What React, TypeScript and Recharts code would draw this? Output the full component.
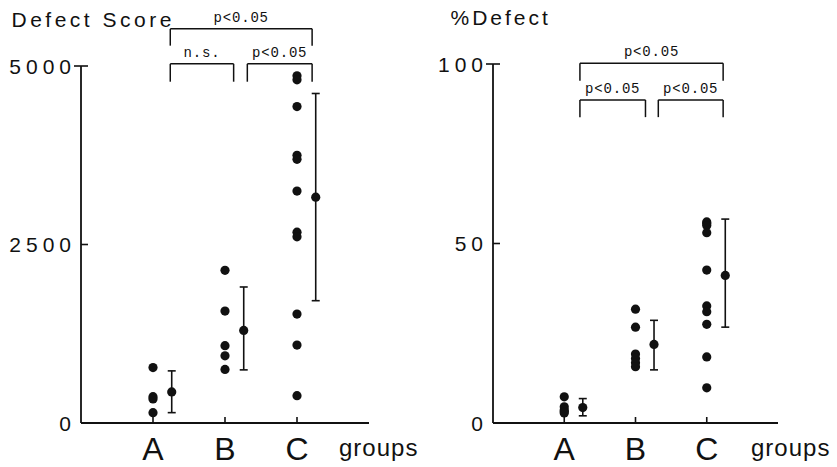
import { ScatterChart, Scatter, XAxis, YAxis, ErrorBar, ReferenceLine } from "recharts";

const GROUPS = ["A", "B", "C"];
const GROUP_X = [1, 2, 3];

// Defect Score, single animals per group
const scoreA = [776, 369, 337, 145];
const scoreB = [2139, 1568, 1083, 941, 751];
const scoreC = [4862, 4806, 4432, 3749, 3693, 3248, 2672, 2607, 1526, 1091, 383];
const scoreMean = [435, 1296, 3163];
const scoreSdLow = [290, 552, 1450];
const scoreSdHigh = [295, 609, 1452];
const scoreTicks = [0, 2500, 5000];

// %Defect, single animals per group
const pctA = [7.3, 4.5, 3.6, 3.2, 2.8];
const pctB = [31.7, 26.7, 19.2, 18.0, 16.8, 15.7];
const pctC = [56, 55.6, 55, 53, 42.6, 32.6, 31, 27.5, 18.4, 9.8];
const pctMean = [4.3, 21.9, 41.1];
const pctSdLow = [2.3, 7.1, 14.4];
const pctSdHigh = [2.5, 6.7, 15.7];
const pctTicks = [0, 50, 100];

// significance brackets (group span, level, label)
const scoreBrackets = [
  { from: 1.24, to: 3.21, y: 5520, drop: 235, label: "p<0.05" },
  { from: 1.24, to: 2.12, y: 5030, drop: 250, label: "n.s." },
  { from: 2.31, to: 3.21, y: 5030, drop: 250, label: "p<0.05" },
];
const pctBrackets = [
  { from: 1.22, to: 3.23, y: 100.2, drop: 4.9, label: "p<0.05" },
  { from: 1.22, to: 2.14, y: 90.0, drop: 4.8, label: "p<0.05" },
  { from: 2.32, to: 3.23, y: 90.0, drop: 4.8, label: "p<0.05" },
];

const MEAN_OFFSET = 0.26;
const INK = "#111";
const SANS = "'Liberation Sans', Arial, Helvetica, sans-serif";
const MONO = "'Liberation Mono', 'DejaVu Sans Mono', monospace";

const Dot = (p: any) => <circle cx={p.cx} cy={p.cy} r={4.6} fill={INK} />;

function YTick(props: any) {
  const { x, y, payload, top } = props;
  const v = payload.value;
  return (
    <g>
      {v !== 0 && (
        <line x1={v === top ? x - 7 : x} x2={x + 7} y1={y} y2={y} stroke={INK} strokeWidth={1.6} />
      )}
      <text x={x - 5} y={y + 7.5} textAnchor="end" fontSize={21} fontFamily={SANS} letterSpacing={5} fill={INK}>
        {v}
      </text>
    </g>
  );
}

function XTick(props: any) {
  const { x, y, payload } = props;
  return (
    <g>
      <line x1={x} x2={x} y1={y - 6} y2={y} stroke={INK} strokeWidth={1.6} />
      <text x={x} y={y + 37} textAnchor="middle" fontSize={32} fontFamily={SANS} fill={INK}>
        {GROUPS[payload.value - 1]}
      </text>
    </g>
  );
}

type Bracket = { from: number; to: number; y: number; drop: number; label: string };

function Panel(props: {
  groups: number[][];
  mean: number[];
  low: number[];
  high: number[];
  ticks: number[];
  brackets: Bracket[];
  width: number;
  yWidth: number;
  top: number;
  right: number;
}) {
  const { groups, mean, low, high, ticks, brackets, width, yWidth, top, right } = props;
  const yMax = ticks[ticks.length - 1];
  const points = groups.flatMap((vals, i) => vals.map((v) => ({ x: GROUP_X[i], y: v })));
  const means = mean.map((m, i) => ({ x: GROUP_X[i] + MEAN_OFFSET, y: m, err: [low[i], high[i]] }));

  return (
    <ScatterChart width={width} height={467} margin={{ top, right, bottom: 0, left: 0 }}>
      <XAxis
        type="number"
        dataKey="x"
        domain={[0, 4]}
        ticks={GROUP_X}
        height={44}
        tickSize={0}
        tickMargin={0}
        tickLine={false}
        axisLine={{ stroke: INK, strokeWidth: 1.8 }}
        tick={(p: any) => <XTick {...p} />}
      />
      <YAxis
        type="number"
        dataKey="y"
        domain={[0, yMax]}
        ticks={ticks}
        width={yWidth}
        tickSize={0}
        tickMargin={0}
        tickLine={false}
        axisLine={{ stroke: INK, strokeWidth: 1.8 }}
        tick={(p: any) => <YTick {...p} top={yMax} />}
      />
      {brackets.map((b, i) => (
        <ReferenceLine
          key={"h" + i}
          segment={[{ x: b.from, y: b.y }, { x: b.to, y: b.y }]}
          stroke={INK}
          strokeWidth={1.5}
          ifOverflow="visible"
          label={{ value: b.label, position: "top", offset: 7, fontSize: 14, fontFamily: MONO, fill: INK, letterSpacing: 0.8 }}
        />
      ))}
      {brackets.map((b, i) => (
        <ReferenceLine
          key={"l" + i}
          segment={[{ x: b.from, y: b.y }, { x: b.from, y: b.y - b.drop }]}
          stroke={INK}
          strokeWidth={1.5}
          ifOverflow="visible"
        />
      ))}
      {brackets.map((b, i) => (
        <ReferenceLine
          key={"r" + i}
          segment={[{ x: b.to, y: b.y }, { x: b.to, y: b.y - b.drop }]}
          stroke={INK}
          strokeWidth={1.5}
          ifOverflow="visible"
        />
      ))}
      <Scatter data={points} shape={Dot} isAnimationActive={false} />
      <Scatter data={means} shape={Dot} isAnimationActive={false}>
        <ErrorBar dataKey="err" direction="y" width={4} stroke={INK} strokeWidth={1.6} isAnimationActive={false} />
      </Scatter>
    </ScatterChart>
  );
}

const titleStyle = (left: number, top: number, size: number, spacing: number): React.CSSProperties => ({
  position: "absolute",
  left,
  top,
  fontSize: size,
  lineHeight: 1,
  fontFamily: SANS,
  letterSpacing: spacing,
  color: INK,
  whiteSpace: "nowrap",
});

export default function App() {
  return (
    <div style={{ position: "absolute", left: 0, top: 0, width: 837, height: 467, background: "#fff" }}>
      <div style={{ position: "absolute", left: 0, top: 0 }}>
        <Panel
          groups={[scoreA, scoreB, scoreC]}
          mean={scoreMean}
          low={scoreSdLow}
          high={scoreSdHigh}
          ticks={scoreTicks}
          brackets={scoreBrackets}
          width={420}
          yWidth={81}
          top={66}
          right={51}
        />
      </div>
      <div style={{ position: "absolute", left: 420, top: 0 }}>
        <Panel
          groups={[pctA, pctB, pctC]}
          mean={pctMean}
          low={pctSdLow}
          high={pctSdHigh}
          ticks={pctTicks}
          brackets={pctBrackets}
          width={417}
          yWidth={73}
          top={64}
          right={59}
        />
      </div>
      <div style={titleStyle(11.5, 9, 21, 3.5)}>Defect Score</div>
      <div style={titleStyle(450.5, 7, 21, 3)}>%Defect</div>
      <div style={titleStyle(339, 436, 24, 1)}>groups</div>
      <div style={titleStyle(751, 436, 24, 1)}>groups</div>
    </div>
  );
}
